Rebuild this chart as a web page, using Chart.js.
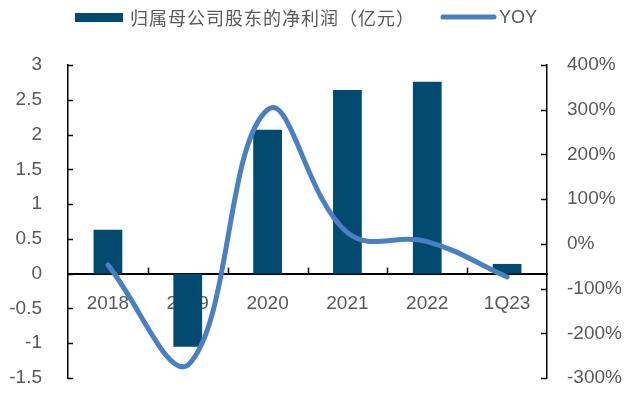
<!DOCTYPE html>
<html>
<head>
<meta charset="utf-8">
<script src="https://cdn.jsdelivr.net/npm/chart.js@4.4.0/dist/chart.umd.min.js"></script>
<style>
html,body{margin:0;padding:0;background:#fff;}
#wrap{width:635px;height:394px;position:relative;}
</style>
</head>
<body>
<div id="wrap"><canvas id="c" width="635" height="394"></canvas></div>
<script>
const categories = ['2018', '2019', '2020', '2021', '2022', '1Q23'];
const netProfit = [0.63, -1.05, 2.07, 2.64, 2.76, 0.14];
const yoy = [-47, -272, 300, 25, 5, -74];
const leftTicks = [3, 2.5, 2, 1.5, 1, 0.5, 0, -0.5, -1, -1.5];
const rightTicks = [400, 300, 200, 100, 0, -100, -200, -300];
const seriesNames = ['归属母公司股东的净利润（亿元）', 'YOY'];

const BAR = '#024A6F';
const LINE = '#4A80C2';
const TXT = '#595959';

const tickFont = {family: '"Liberation Sans", Arial, sans-serif', size: 19};

const decorPlugin = {
  id: 'decor',
  afterDraw(chart) {
    const ctx = chart.ctx;
    const x = chart.scales.x, yl = chart.scales.y, yr = chart.scales.y1;
    const a = chart.chartArea;
    ctx.save();
    ctx.strokeStyle = '#000';
    ctx.lineWidth = 1.5;
    yl.ticks.forEach((t) => {
      const py = Math.round(yl.getPixelForValue(t.value)) + 0.5;
      ctx.beginPath(); ctx.moveTo(a.left, py); ctx.lineTo(a.left + 5, py); ctx.stroke();
    });
    yr.ticks.forEach((t) => {
      const py = Math.round(yr.getPixelForValue(t.value)) + 0.5;
      ctx.beginPath(); ctx.moveTo(a.right - 6, py); ctx.lineTo(a.right, py); ctx.stroke();
    });
    const zy = yl.getPixelForValue(0);
    for (let i = 0; i < categories.length - 1; i++) {
      const px = Math.round((x.getPixelForValue(i) + x.getPixelForValue(i + 1)) / 2) + 0.5;
      ctx.beginPath(); ctx.moveTo(px, zy); ctx.lineTo(px, zy - 6); ctx.stroke();
    }
    // legend
    ctx.fillStyle = BAR;
    ctx.fillRect(75, 13, 48, 9);
    ctx.font = '18px "Noto Sans CJK SC", sans-serif';
    ctx.fillStyle = TXT;
    ctx.textBaseline = 'middle';
    ctx.letterSpacing = '1px';
    ctx.fillText(seriesNames[0], 130, 18);
    ctx.letterSpacing = '0px';
    ctx.strokeStyle = LINE;
    ctx.lineWidth = 5;
    ctx.lineCap = 'round';
    ctx.beginPath(); ctx.moveTo(443, 17); ctx.lineTo(494, 17); ctx.stroke();
    ctx.font = '18px "Liberation Sans", Arial, sans-serif';
    ctx.fillText(seriesNames[1], 499, 18);
    ctx.restore();
  }
};

function fitY(width) {
  return function (s) { s.width = width; s.paddingTop = 0; s.paddingBottom = 0; };
}

new Chart(document.getElementById('c'), {
  data: {
    labels: categories,
    datasets: [
      {
        type: 'line', label: seriesNames[1], data: yoy, yAxisID: 'y1',
        borderColor: LINE, borderWidth: 5, tension: 0.4, pointRadius: 0,
        borderCapStyle: 'round', fill: false, order: 0
      },
      {
        type: 'bar', label: seriesNames[0], data: netProfit, yAxisID: 'y',
        backgroundColor: BAR, barPercentage: 0.36, categoryPercentage: 1, order: 1
      }
    ]
  },
  options: {
    responsive: false,
    animation: false,
    layout: {padding: {top: 65, bottom: 16, left: 0, right: 0}},
    plugins: {legend: {display: false}, tooltip: {enabled: false}},
    scales: {
      x: {
        position: {y: 0},
        afterFit(s) { s.height = 0; s.paddingLeft = 0; s.paddingRight = 0; },
        grid: {display: false},
        border: {display: true, color: '#000', width: 2},
        ticks: {color: TXT, font: tickFont, padding: 11, maxRotation: 0}
      },
      y: {
        position: 'left', min: -1.5, max: 3,
        afterBuildTicks(s) { s.ticks = leftTicks.map(v => ({value: v})); },
        afterFit: fitY(68),
        grid: {display: false},
        border: {display: true, color: '#000', width: 1.5},
        ticks: {color: TXT, font: tickFont, padding: 18, callback: v => String(v)}
      },
      y1: {
        position: 'right', min: -300, max: 400,
        afterBuildTicks(s) { s.ticks = rightTicks.map(v => ({value: v})); },
        afterFit: fitY(88),
        grid: {display: false},
        border: {display: true, color: '#000', width: 1.5},
        ticks: {color: TXT, font: tickFont, padding: 12, callback: v => v + '%'}
      }
    }
  },
  plugins: [decorPlugin]
});
</script>
</body>
</html>
